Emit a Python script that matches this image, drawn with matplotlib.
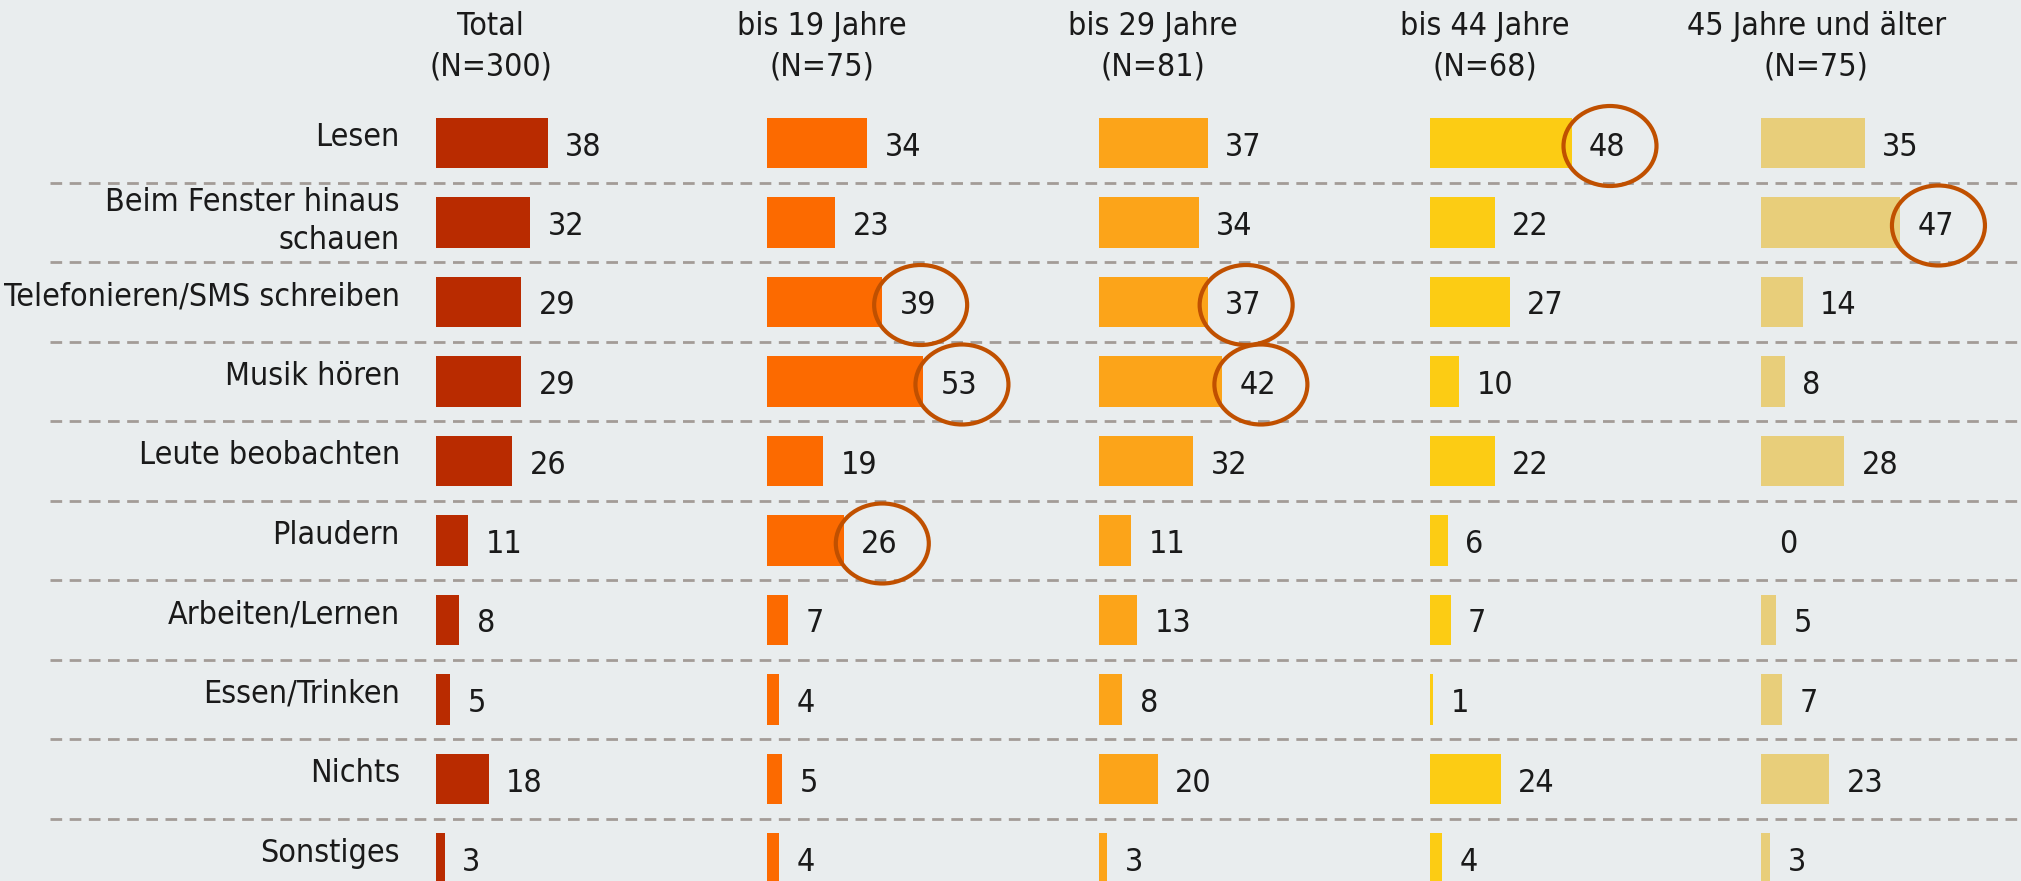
import matplotlib
matplotlib.use('Agg')
import matplotlib.pyplot as plt
from matplotlib import font_manager
from matplotlib.patches import Ellipse
import numpy as np

categories = ['Lesen', 'Beim Fenster hinaus\nschauen', 'Telefonieren/SMS schreiben',
              'Musik hören', 'Leute beobachten', 'Plaudern', 'Arbeiten/Lernen',
              'Essen/Trinken', 'Nichts', 'Sonstiges']
groups = ['Total', 'bis 19 Jahre', 'bis 29 Jahre', 'bis 44 Jahre', '45 Jahre und älter']
group_n = ['(N=300)', '(N=75)', '(N=81)', '(N=68)', '(N=75)']

total = [38, 32, 29, 29, 26, 11, 8, 5, 18, 3]
bis_19 = [34, 23, 39, 53, 19, 26, 7, 4, 5, 4]
bis_29 = [37, 34, 37, 42, 32, 11, 13, 8, 20, 3]
bis_44 = [48, 22, 27, 10, 22, 6, 7, 1, 24, 4]
ab_45 = [35, 47, 14, 8, 28, 0, 5, 7, 23, 3]

# highlighted cells: (row, group)
circled = [(0, 3), (1, 4), (2, 1), (2, 2), (3, 1), (3, 2), (5, 1)]

colors = ['#B92B00', '#FC6A00', '#FCA419', '#FCCC14', '#E8CE7A']
bg = '#E9EDEE'

# layout in pixels of the 2021x881 output
W, H = 2021, 881
PX = 2.95          # px per percent
ROW = 79.5         # px per row
Y0 = 143           # px, centre of first row
COL0 = 435.7       # px, left edge of first column
COLW = 331.4       # px between columns

names = [(f.name, f.stretch) for f in font_manager.fontManager.ttflist]
if ('DejaVu Sans Condensed', 'condensed') in names or ('DejaVu Sans', 'condensed') in names:
    font = dict(family='DejaVu Sans', fontstretch='condensed', fontsize=23)
elif any(n == 'Liberation Sans Narrow' for n, s in names):
    font = dict(family='Liberation Sans Narrow', fontsize=26.5)
else:
    font = dict(family='DejaVu Sans', fontsize=20.5)
font['color'] = '#1A1A1A'


def py(px):
    'pixel row -> data y'
    return (px - Y0) / ROW


fig = plt.figure(figsize=(W / 100, H / 100), dpi=100, facecolor=bg)
ax = fig.add_axes([0, 0, 1, 1])
ax.set_facecolor(bg)
ax.set_xlim(0, W / PX)
ax.set_ylim(py(H), py(0))
ax.axis('off')

rows = np.arange(len(categories))
col_left = (COL0 + np.arange(len(groups)) * COLW) / PX
series = [total, bis_19, bis_29, bis_44, ab_45]

# dashed separators between rows
ax.hlines(rows[:-1] + 0.5, 50 / PX, W / PX, colors='#A39C97', lw=2,
          linestyles=(0, (4.2, 2.7)), zorder=1)

for g, vals in enumerate(series):
    ax.barh(rows, vals, left=col_left[g], height=50.4 / ROW, color=colors[g], zorder=2)
    for r, v in enumerate(vals):
        ax.text(col_left[g] + v + 17.5 / PX, r + 4 / ROW, str(v),
                ha='left', va='center', zorder=3, **font)
    ax.text(col_left[g] + 54.8 / PX, py(35), groups[g], ha='center', va='baseline', **font)
    ax.text(col_left[g] + 54.8 / PX, py(75), group_n[g], ha='center', va='baseline', **font)

for r, cat in enumerate(categories):
    dy = -1 if '\n' in cat else -5
    ax.text(400 / PX, r + dy / ROW, cat, ha='right', va='center', linespacing=1.3, **font)

for r, g in circled:
    x = col_left[g] + series[g][r] + (17.5 + 21) / PX
    ax.add_patch(Ellipse((x, r + 3 / ROW), 93 / PX, 80 / ROW, fill=False,
                         ec='#C05000', lw=3, zorder=4))

fig.savefig('out.png', dpi=100, facecolor=bg)
